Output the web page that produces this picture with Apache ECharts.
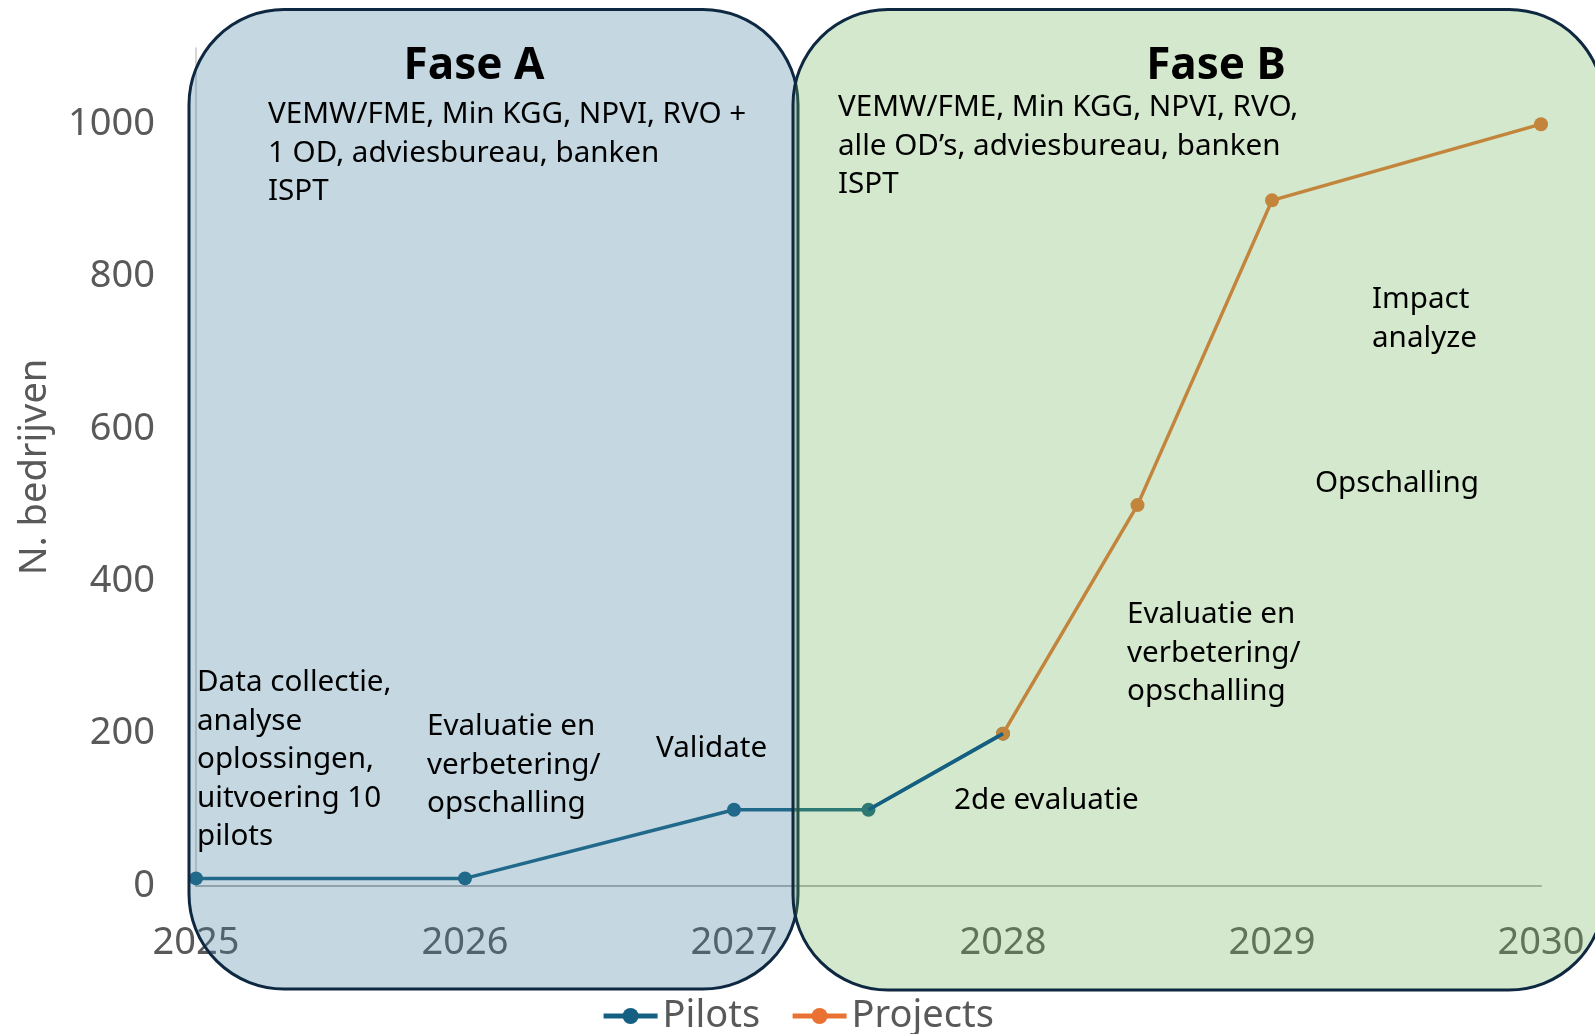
<!DOCTYPE html>
<html>
<head>
<meta charset="utf-8">
<script src="https://cdn.jsdelivr.net/npm/echarts@6/dist/echarts.min.js"></script>
<style>
html,body{margin:0;padding:0;background:#fff;}
#chart{width:1595px;height:1034px;}
</style>
</head>
<body>
<div id="chart"></div>
<script>
const pilotYears = [2025, 2026, 2027, 2027.5, 2028];
const pilotValues = [10, 10, 100, 100, 200];
const projectYears = [2028, 2028.5, 2029, 2030];
const projectValues = [200, 500, 900, 1000];
const seriesNames = ['Pilots', 'Projects'];
const yAxisTitle = 'N. bedrijven';
const phaseTitles = ['Fase A', 'Fase B'];
const phaseParties = [
  'VEMW/FME, Min KGG, NPVI, RVO +\n1 OD, adviesbureau, banken\nISPT',
  'VEMW/FME, Min KGG, NPVI, RVO,\nalle OD\u2019s, adviesbureau, banken\nISPT'
];
const stepNotes = [
  'Data collectie,\nanalyse\noplossingen,\nuitvoering 10\npilots',
  'Evaluatie en\nverbetering/\nopschalling',
  'Validate',
  '2de evaluatie',
  'Evaluatie en\nverbetering/\nopschalling',
  'Opschalling',
  'Impact\nanalyze'
];

const FONT = '"Noto Sans", "Liberation Sans", sans-serif';
const GRAY = '#595959';
const pair = (xs, ys) => xs.map((x, i) => [x, ys[i]]);

const chart = echarts.init(document.getElementById('chart'), null, {renderer: 'canvas'});

function note(text, x, yCenterFirst, size, weight, align) {
  const lh = size > 40 ? 50 : 38.5;
  return {
    type: 'text', z: 120,
    style: {
      text: text, x: x, y: yCenterFirst - lh / 2,
      fontSize: size, fontFamily: FONT, fontWeight: weight || 'normal',
      fill: '#000', lineHeight: lh,
      align: align || 'left', verticalAlign: 'top'
    }
  };
}

chart.setOption({
  animation: false,
  backgroundColor: '#fff',
  grid: {left: 196, right: 54, top: 48, bottom: 148, containLabel: false},
  legend: {
    data: seriesNames,
    bottom: -7,
    itemWidth: 54, itemHeight: 20, itemGap: 30,
    lineStyle: {width: 5},
    textStyle: {fontSize: 38, fontFamily: FONT, color: GRAY, lineHeight: 40}
  },
  xAxis: {
    type: 'value', min: 2025, max: 2030, interval: 1,
    axisLine: {show: true, onZero: true, lineStyle: {color: '#b4b4b4', width: 2}},
    axisTick: {show: false},
    splitLine: {show: false},
    axisLabel: {fontSize: 38, fontFamily: FONT, color: GRAY, margin: 38,
      formatter: v => String(v)}
  },
  yAxis: {
    type: 'value', min: 0, max: 1100, interval: 200,
    name: yAxisTitle, nameLocation: 'middle', nameGap: 142, nameRotate: 90,
    nameTextStyle: {fontSize: 38, fontFamily: FONT, color: GRAY},
    axisLine: {show: true, lineStyle: {color: '#c8c8c8', width: 1.5}},
    axisTick: {show: false},
    splitLine: {show: false},
    axisLabel: {fontSize: 38, fontFamily: FONT, color: GRAY, margin: 41,
      formatter: v => (v > 1000 ? '' : String(v))}
  },
  series: [
    {
      name: 'Pilots', type: 'line', z: 4,
      data: pair(pilotYears, pilotValues),
      symbol: 'circle', symbolSize: 14,
      lineStyle: {color: '#156082', width: 3.5},
      itemStyle: {color: '#156082'}
    },
    {
      name: 'Projects', type: 'line', z: 5,
      data: pair(projectYears, projectValues),
      symbol: 'circle', symbolSize: 14,
      lineStyle: {color: '#e97132', width: 3.5},
      itemStyle: {color: '#e97132'}
    },
    {
      // last Pilots segment, drawn above the phase panels as in the source
      name: 'Pilots', type: 'line', z: 150,
      data: pair(pilotYears.slice(-2), pilotValues.slice(-2)),
      symbol: 'none', silent: true,
      lineStyle: {color: '#156082', width: 3.5},
      itemStyle: {color: '#156082'}
    }
  ],
  graphic: [
    {type: 'rect', z: 100,
      shape: {x: 189, y: 9.5, width: 609, height: 979.5, r: 95},
      style: {fill: 'rgba(62,125,158,0.3)', stroke: '#0e2841', lineWidth: 3}},
    {type: 'rect', z: 101,
      shape: {x: 793, y: 9.5, width: 811, height: 980.5, r: 95},
      style: {fill: 'rgba(108,178,85,0.3)', stroke: '#0e2841', lineWidth: 3}},
    note(phaseTitles[0], 474, 66, 44, 'bold', 'center'),
    note(phaseTitles[1], 1216, 66, 44, 'bold', 'center'),
    note(phaseParties[0], 268, 115, 29.6),
    note(phaseParties[1], 838, 108, 29.6),
    note(stepNotes[0], 197, 683, 29.6),
    note(stepNotes[1], 427, 727, 29.6),
    note(stepNotes[2], 656, 749, 29.6),
    note(stepNotes[3], 954, 801, 29.6),
    note(stepNotes[4], 1127, 615, 29.6),
    note(stepNotes[5], 1315, 484, 29.6),
    note(stepNotes[6], 1372, 300, 29.6)
  ]
});
</script>
</body>
</html>
